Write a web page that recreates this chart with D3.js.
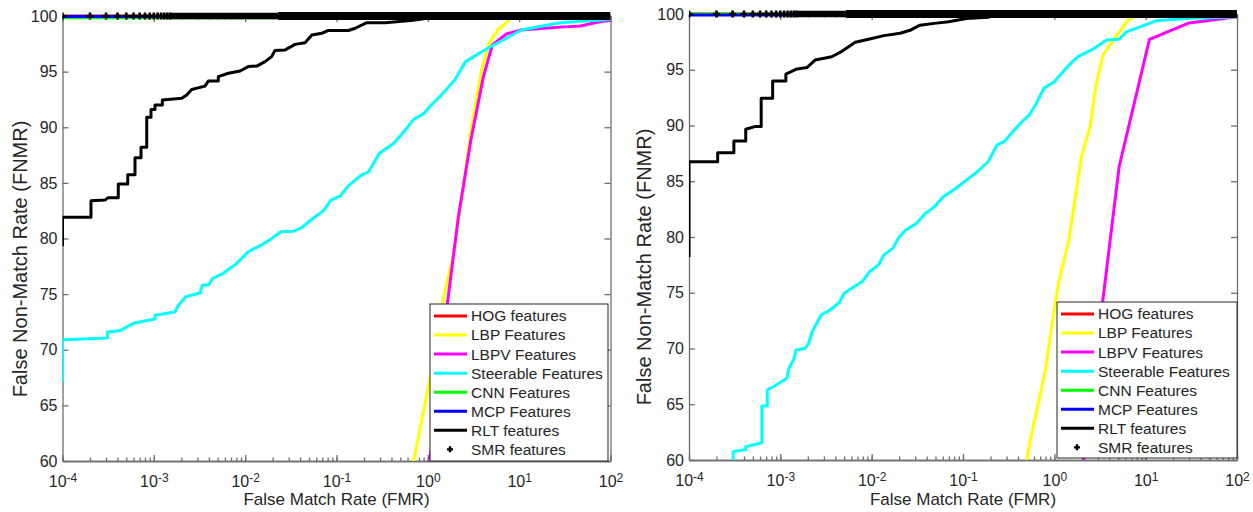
<!DOCTYPE html>
<html>
<head>
<meta charset="utf-8">
<script src="https://cdn.jsdelivr.net/npm/d3@7"></script>
<style>
  body { margin: 0; background: #fff; }
  svg { display: block; }
  text { font-family: "Liberation Sans", Arial, Helvetica, sans-serif; fill: #262626; }
</style>
</head>
<body>
<svg id="chart" width="1253" height="512"></svg>
<script>
// axis ticks
const fmrTicks = [1e-4, 1e-3, 1e-2, 1e-1, 1, 10, 100];
const fnmrTicks = [60, 65, 70, 75, 80, 85, 90, 95, 100];

// legend entries, in plot order
const seriesNames = ["HOG features", "LBP Features", "LBPV Features", "Steerable Features",
  "CNN Features", "MCP Features", "RLT features", "SMR features"];
const seriesColors = ["#ff0000", "#ffff00", "#ff00ff", "#00ffff", "#00ff00", "#0000ff", "#000000", "#000000"];

// ---- left panel: [FMR, FNMR] ----
const leftHOG = [[1e-4, 100], [100, 100]];
const leftLBP = [[0.6, 56], [0.70, 60], [0.83, 63.1], [1.05, 67.3], [1.44, 74.2], [1.88, 78.4],
  [2.26, 82.6], [2.96, 89.75], [3.88, 95.15], [4.66, 97.5], [5.83, 98.74], [7.5, 99.5], [8.3, 100], [100, 100]];
const leftLBPV = [[0.95, 56], [1.05, 60], [1.25, 65.5], [1.64, 74.2], [2.16, 81.96], [2.96, 88.85],
  [4.06, 94.55], [5.09, 97.4], [7.3, 98.4], [10.5, 98.74], [28, 99.0], [47, 99.1], [78, 99.5], [100, 99.6]];
const leftSteerable = [[1e-4, 67.1], [1e-4, 70.9], [3.1e-4, 71.05], [3.1e-4, 71.6], [4.2e-4, 71.7],
  [6.1e-4, 72.4], [1.03e-3, 72.76], [1.03e-3, 73.1], [1.7e-3, 73.4], [1.86e-3, 74.0], [2.23e-3, 74.77],
  [3.2e-3, 75.1], [3.4e-3, 75.8], [4.0e-3, 75.85], [4.4e-3, 76.42], [5.75e-3, 76.87], [7.9e-3, 77.7],
  [1.08e-2, 78.8], [1.49e-2, 79.4], [1.87e-2, 79.9], [2.45e-2, 80.6], [3.37e-2, 80.65], [4.2e-2, 81.0],
  [5.5e-2, 81.8], [7.2e-2, 82.5], [8.7e-2, 83.46], [0.109, 83.8], [0.137, 84.8], [0.187, 85.7],
  [0.225, 86.0], [0.295, 87.66], [0.424, 88.56], [0.53, 89.46], [0.70, 90.71], [0.91, 91.25],
  [1.09, 92.0], [1.37, 92.8], [1.64, 93.5], [1.97, 94.25], [2.59, 95.9], [3.72, 96.7], [4.88, 97.24],
  [6.7, 97.84], [10.5, 98.74], [28, 99.4], [100, 99.7]];
const leftCNN = [[1e-4, 99.85], [100, 99.85]];
const leftMCP = [[1e-4, 99.95], [100, 99.95]];
const leftRLT = [[1e-4, 79.3], [1e-4, 81.9], [2.05e-4, 81.9], [2.05e-4, 83.4], [2.92e-4, 83.45],
  [3.16e-4, 83.67], [4.08e-4, 83.67], [4.08e-4, 84.9], [5.18e-4, 84.9], [5.18e-4, 85.74],
  [6.22e-4, 85.74], [6.22e-4, 87.26], [7.24e-4, 87.26], [7.24e-4, 88.2], [8.36e-4, 88.2],
  [8.36e-4, 90.9], [9.31e-4, 90.9], [9.31e-4, 91.6], [1.03e-3, 91.6], [1.03e-3, 92.0],
  [1.24e-3, 92.0], [1.24e-3, 92.45], [2.02e-3, 92.6], [2.29e-3, 92.9], [2.6e-3, 93.4],
  [3.63e-3, 93.7], [3.95e-3, 94.15], [5.08e-3, 94.15], [5.08e-3, 94.55], [6.55e-3, 94.85],
  [8.8e-3, 95.06], [1.08e-2, 95.45], [1.34e-2, 95.5], [1.65e-2, 95.9], [1.95e-2, 96.35],
  [2.12e-2, 96.9], [2.74e-2, 96.95], [3.52e-2, 97.45], [4.53e-2, 97.6], [5.37e-2, 98.3],
  [6.9e-2, 98.45], [8.15e-2, 98.7], [0.135, 98.7], [0.16, 98.9], [0.215, 99.4], [0.34, 99.4],
  [0.65, 99.6], [1.0, 99.8], [2.0, 100], [100, 100]];
// SMR: single markers at low FMR, then so dense that they merge into a band
const smrMarkers = [1e-4, 2e-4, 3e-4, 4e-4, 5e-4, 6e-4, 7e-4, 8e-4, 9e-4, 1e-3,
  1.1e-3, 1.2e-3, 1.3e-3, 1.4e-3, 1.5e-3];
const leftSMRBand = [1.5e-3, 2.3e-2, 100];

// ---- right panel ----
const rightHOG = [[1e-4, 100], [100, 100]];
const rightLBP = [[0.47, 57], [0.5, 60], [0.532, 61.35], [0.668, 65.1], [0.8, 68.07], [0.96, 72.56],
  [1.1, 75.7], [1.44, 79.7], [1.98, 87.2], [2.48, 90.0], [2.84, 93.48], [3.4, 96.3], [4.47, 97.7],
  [6.41, 99.46], [8.05, 99.9], [100, 100]];
const rightLBPV = [[2.0, 57], [2.1, 60], [3.4, 74.35], [5.12, 86.3], [11.0, 97.73], [29.9, 99.2], [100, 99.75]];
const rightSteerable = [[3.04e-4, 58], [3.04e-4, 60.75], [4.18e-4, 60.95], [4.18e-4, 61.2],
  [6.28e-4, 61.55], [6.28e-4, 64.84], [7.2e-4, 64.84], [7.2e-4, 66.28], [9.0e-4, 66.73],
  [1.18e-3, 67.33], [1.24e-3, 68.22], [1.42e-3, 69.1], [1.48e-3, 69.86], [1.86e-3, 70.0],
  [2.04e-3, 70.47], [2.23e-3, 71.5], [2.8e-3, 73.0], [3.5e-3, 73.45], [4.4e-3, 74.1],
  [5.0e-3, 74.95], [6.3e-3, 75.5], [7.9e-3, 76.0], [9.5e-3, 76.9], [1.19e-2, 77.5],
  [1.36e-2, 78.4], [1.71e-2, 79.0], [1.96e-2, 79.9], [2.34e-2, 80.6], [3.08e-2, 81.2],
  [3.85e-2, 82.1], [4.84e-2, 82.7], [6.07e-2, 83.6], [8.3e-2, 84.35], [0.109, 85.1],
  [0.143, 85.85], [0.188, 86.75], [0.236, 88.25], [0.282, 88.55], [0.339, 89.3], [0.425, 90.2],
  [0.532, 90.95], [0.638, 92.0], [0.766, 93.33], [1.0, 93.93], [1.15, 94.5], [1.44, 95.4],
  [1.81, 96.17], [2.59, 96.8], [3.73, 97.67], [5.12, 97.73], [6.14, 98.4], [8.81, 98.86],
  [13.2, 99.4], [27.3, 99.6], [100, 99.75]];
const rightCNN = [[1e-4, 100], [100, 100]];
const rightMCP = [[1e-4, 99.9], [100, 99.9]];
const rightRLT = [[1e-4, 78.2], [1e-4, 86.75], [2.06e-4, 86.75], [2.06e-4, 87.56], [3.1e-4, 87.56],
  [3.1e-4, 88.6], [4.18e-4, 88.6], [4.18e-4, 89.66], [5.25e-4, 89.9], [6.17e-4, 89.9],
  [6.17e-4, 92.44], [8.24e-4, 92.44], [8.24e-4, 93.99], [1.15e-3, 93.99], [1.15e-3, 94.6],
  [1.48e-3, 95.04], [1.95e-3, 95.2], [2.4e-3, 95.87], [3.66e-3, 96.17], [4.6e-3, 96.6],
  [6.6e-3, 97.46], [9.5e-3, 97.76], [1.36e-2, 98.06], [2.05e-2, 98.27], [2.69e-2, 98.57],
  [3.37e-2, 99.0], [4.84e-2, 99.16], [6.95e-2, 99.3], [0.109, 99.6], [0.188, 99.7],
  [0.225, 99.9], [0.3, 100], [100, 100]];
const rightSMRBand = [1.5e-3, 5.2e-3, 100];

const svg = d3.select("#chart");

function drawPanel(p) {
  const x = d3.scaleLog().domain([1e-4, 100]).range([p.x0, p.x1]);
  const y = d3.scaleLinear().domain([60, 100]).range([p.y1, p.y0]);
  const g = svg.append("g");

  // minor + major ticks on all four sides (box on, ticks inward)
  const minor = x.ticks();
  g.append("g").attr("transform", `translate(0,${p.y1})`)
    .call(d3.axisBottom(x).tickValues(minor).tickSize(-3.5).tickSizeOuter(0).tickFormat(""));
  g.append("g").attr("transform", `translate(0,${p.y0})`)
    .call(d3.axisTop(x).tickValues(minor).tickSize(-3.5).tickSizeOuter(0).tickFormat(""));
  const xAxis = g.append("g").attr("transform", `translate(0,${p.y1})`)
    .call(d3.axisBottom(x).tickValues(fmrTicks).tickSize(-6).tickSizeOuter(0).tickPadding(15).tickFormat(""));
  g.append("g").attr("transform", `translate(0,${p.y0})`)
    .call(d3.axisTop(x).tickValues(fmrTicks).tickSize(-6).tickSizeOuter(0).tickFormat(""));
  g.append("g").attr("transform", `translate(${p.x0},0)`)
    .call(d3.axisLeft(y).tickValues(fnmrTicks).tickSize(-6).tickSizeOuter(0).tickPadding(5))
    .selectAll("text").attr("font-size", "16px");
  g.append("g").attr("transform", `translate(${p.x1},0)`)
    .call(d3.axisRight(y).tickValues(fnmrTicks).tickSize(-6).tickSizeOuter(0).tickFormat(""));

  // 10^n labels
  xAxis.selectAll(".tick text").each(function (d) {
    const t = d3.select(this).text(null).attr("font-size", "16px");
    t.append("tspan").text("10");
    t.append("tspan").attr("dy", "-0.45em").attr("font-size", "12px")
      .text(Math.round(Math.log10(d)));
  });

  g.selectAll(".domain, .tick line").attr("stroke", "#6e6e6e").attr("stroke-width", 1.3);
  g.selectAll(".tick text").attr("fill", "#262626")
    .attr("font-family", '"Liberation Sans", Arial, sans-serif');

  // axis titles
  g.append("text").attr("x", (p.x0 + p.x1) / 2).attr("y", 505)
    .attr("text-anchor", "middle").attr("font-size", "17px").text("False Match Rate (FMR)");
  g.append("text").attr("transform", `translate(${p.ylabelX},${p.ylabelY}) rotate(-90)`)
    .attr("text-anchor", "middle").attr("dy", "0.35em").attr("font-size", "20px")
    .text("False Non-Match Rate (FNMR)");

  // curves
  const clipId = "clip" + p.id;
  svg.append("clipPath").attr("id", clipId).append("rect")
    .attr("x", p.x0).attr("y", p.y0 - 6).attr("width", p.x1 - p.x0).attr("height", p.y1 - p.y0 + 6);
  const plot = g.append("g").attr("clip-path", `url(#${clipId})`);
  const line = d3.line().x(d => x(d[0])).y(d => y(d[1])).curve(d3.curveLinear);

  p.series.forEach((s, i) => {
    plot.append("path").datum(s).attr("d", line)
      .attr("fill", "none").attr("stroke", seriesColors[i])
      .attr("stroke-width", 3).attr("stroke-linejoin", "round");
  });

  // SMR markers: dense '+' markers merge into a thick band
  plot.append("path").datum([[p.smrBand[0], 100], [p.smrBand[1], 100]]).attr("d", line)
    .attr("fill", "none").attr("stroke", "#000").attr("stroke-width", 6.5);
  plot.append("path").datum([[p.smrBand[1], 100], [p.smrBand[2], 100]]).attr("d", line)
    .attr("fill", "none").attr("stroke", "#000").attr("stroke-width", 8);
  plot.selectAll(".smr").data(smrMarkers).enter().append("path")
    .attr("class", "smr")
    .attr("transform", d => `translate(${x(d)},${y(100)})`)
    .attr("d", "M-3.5,0H3.5M0,-3.5V3.5")
    .attr("stroke", "#000").attr("stroke-width", 2.6);

  // legend
  const L = p.legend;
  const lg = g.append("g");
  lg.append("rect").attr("x", L.x).attr("y", L.y).attr("width", L.w).attr("height", L.h)
    .attr("fill", "#fff").attr("stroke", "#262626").attr("stroke-width", 1);
  seriesNames.forEach((name, i) => {
    const cy = L.y + 12 + i * 19.05;
    if (i < 7) {
      lg.append("line").attr("x1", L.x + 4).attr("x2", L.x + 37).attr("y1", cy).attr("y2", cy)
        .attr("stroke", seriesColors[i]).attr("stroke-width", 3);
    } else {
      lg.append("path").attr("transform", `translate(${L.x + 20},${cy})`)
        .attr("d", "M-3,0H3M0,-3V3").attr("stroke", "#000").attr("stroke-width", 2.4);
    }
    lg.append("text").attr("x", L.x + 41).attr("y", cy).attr("dy", "0.35em")
      .attr("font-size", "15.5px").text(name);
  });
}

drawPanel({
  id: "L", x0: 62.5, x1: 610.5, y0: 16, y1: 461, ylabelX: 20, ylabelY: 259,
  legend: { x: 430, y: 304, w: 178, h: 157 },
  series: [leftHOG, leftLBP, leftLBPV, leftSteerable, leftCNN, leftMCP, leftRLT],
  smrBand: leftSMRBand
});
drawPanel({
  id: "R", x0: 689, x1: 1237, y0: 14, y1: 460, ylabelX: 644, ylabelY: 267,
  legend: { x: 1057, y: 302, w: 180, h: 156 },
  series: [rightHOG, rightLBP, rightLBPV, rightSteerable, rightCNN, rightMCP, rightRLT],
  smrBand: rightSMRBand
});
</script>
</body>
</html>
